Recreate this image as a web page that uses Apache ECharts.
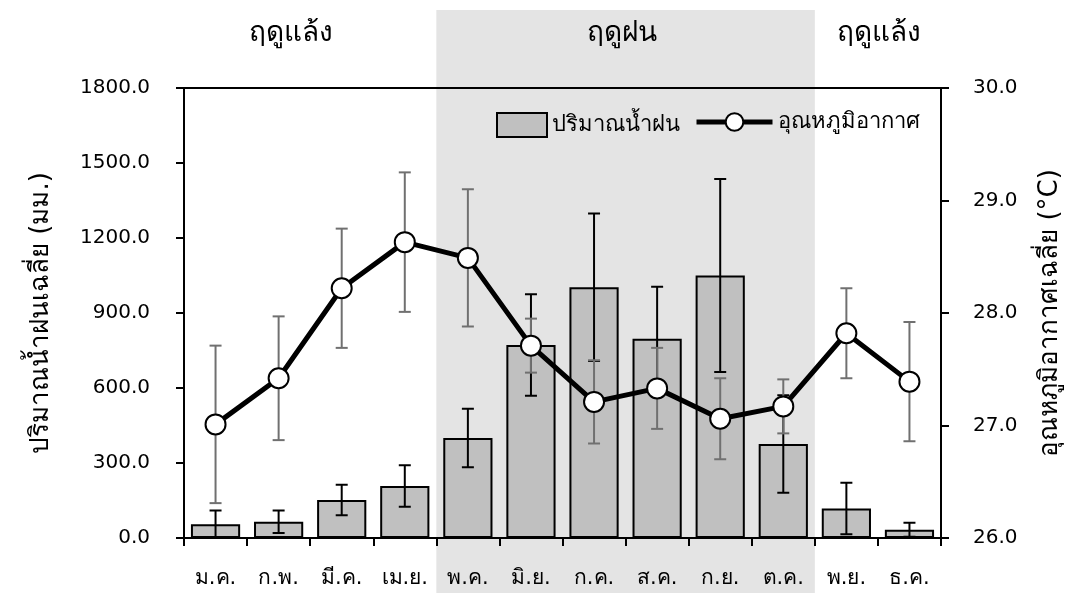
<!DOCTYPE html>
<html>
<head>
<meta charset="utf-8">
<script src="https://cdn.jsdelivr.net/npm/echarts@6/dist/echarts.min.js"></script>
<style>
  html, body { margin: 0; padding: 0; background: #fff; }
  #chart { width: 1076px; height: 593px; }
</style>
</head>
<body>
<div id="chart"></div>
<script>
// data
const months = ['ม.ค.', 'ก.พ.', 'มี.ค.', 'เม.ย.', 'พ.ค.', 'มิ.ย.', 'ก.ค.', 'ส.ค.', 'ก.ย.', 'ต.ค.', 'พ.ย.', 'ธ.ค.'];
const rainMean = [55, 65, 152, 208, 400, 772, 1003, 797, 1050, 376, 118, 33];
const rainErr = [55, 45, 61, 83, 117, 203, 295, 208, 386, 195, 103, 28];
const tempMean = [27.01, 27.42, 28.22, 28.63, 28.49, 27.71, 27.21, 27.33, 27.06, 27.17, 27.82, 27.39];
const tempErr = [0.70, 0.55, 0.53, 0.62, 0.61, 0.24, 0.37, 0.36, 0.36, 0.24, 0.40, 0.53];
const seasons = ['ฤดูแล้ง', 'ฤดูฝน', 'ฤดูแล้ง'];
const wetStart = 4, wetEnd = 9; // พ.ค. .. ต.ค.

const FONT = '"DejaVu Sans", Tahoma, "Noto Sans", sans-serif';
const G = { left: 184, right: 135, top: 88, bottom: 55 };
const W = 1076, H = 593;
const catW = (W - G.left - G.right) / months.length;

function errorSeries(name, color, axis, mean, err, z) {
  return {
    name: name, type: 'custom', yAxisIndex: axis, z: z, silent: true,
    data: mean.map((m, i) => [i, m - err[i], m + err[i]]),
    encode: { x: 0, y: [1, 2] },
    renderItem: (params, api) => {
      const lo = api.coord([api.value(0), api.value(1)]);
      const hi = api.coord([api.value(0), api.value(2)]);
      const h = 6;
      const style = { stroke: color, lineWidth: 2 };
      return {
        type: 'group',
        children: [
          { type: 'line', shape: { x1: hi[0], y1: hi[1], x2: lo[0], y2: lo[1] }, style: style },
          { type: 'line', shape: { x1: hi[0] - h, y1: hi[1], x2: hi[0] + h, y2: hi[1] }, style: style },
          { type: 'line', shape: { x1: lo[0] - h, y1: lo[1], x2: lo[0] + h, y2: lo[1] }, style: style }
        ]
      };
    }
  };
}

const legendText = { fontSize: 22, color: '#000', fontFamily: FONT };
const seasonText = (s) => ({ text: s, fontSize: 28, fill: '#000', fontFamily: FONT });

const chart = echarts.init(document.getElementById('chart'));
chart.setOption({
  animation: false,
  textStyle: { fontFamily: FONT },
  grid: { left: G.left, right: G.right, top: G.top, bottom: G.bottom, show: true, borderColor: '#000', borderWidth: 2, backgroundColor: 'transparent' },
  legend: [
    { left: 491, top: 107, itemWidth: 50, itemHeight: 24, icon: 'rect', itemGap: 0,
      textStyle: legendText, data: ['ปริมาณน้ำฝน'] },
    { left: 689, top: 106, itemWidth: 76, itemHeight: 22, itemGap: 0,
      lineStyle: { width: 5, color: '#000' },
      textStyle: legendText, data: ['อุณหภูมิอากาศ'] }
  ],
  graphic: [
    { type: 'rect', z: -10, silent: true,
      shape: { x: G.left + wetStart * catW, y: 10, width: (wetEnd - wetStart + 1) * catW, height: H - 10 },
      style: { fill: '#e4e4e4' } },
    { type: 'text', left: 249, top: 20, style: seasonText(seasons[0]) },
    { type: 'text', left: 587, top: 20, style: seasonText(seasons[1]) },
    { type: 'text', left: 837, top: 20, style: seasonText(seasons[2]) }
  ],
  xAxis: {
    type: 'category', data: months, boundaryGap: true,
    axisLine: { lineStyle: { color: '#000', width: 2 } },
    axisTick: { show: true, inside: false, length: 8, lineStyle: { color: '#000', width: 2 } },
    axisLabel: { fontSize: 21, color: '#000', margin: 30, interval: 0, hideOverlap: false },
    splitLine: { show: false }
  },
  yAxis: [
    {
      type: 'value', min: 0, max: 1800, interval: 300,
      name: 'ปริมาณน้ำฝนเฉลี่ย (มม.)', nameLocation: 'middle', nameGap: 130, nameRotate: 90,
      nameTextStyle: { fontSize: 26, color: '#000' },
      axisLine: { show: true, lineStyle: { color: '#000', width: 2 } },
      axisTick: { show: true, length: 8, lineStyle: { color: '#000', width: 2 } },
      axisLabel: { fontSize: 20, color: '#000', margin: 34, formatter: v => v.toFixed(1) },
      splitLine: { show: false }
    },
    {
      type: 'value', min: 26, max: 30, interval: 1,
      name: 'อุณหภูมิอากาศเฉลี่ย (°C)', nameLocation: 'middle', nameGap: 96, nameRotate: 90,
      nameTextStyle: { fontSize: 26, color: '#000' },
      axisLine: { show: true, lineStyle: { color: '#000', width: 2 } },
      axisTick: { show: true, length: 8, lineStyle: { color: '#000', width: 2 } },
      axisLabel: { fontSize: 20, color: '#000', margin: 32, formatter: v => v.toFixed(1) },
      splitLine: { show: false }
    }
  ],
  series: [
    {
      name: 'ปริมาณน้ำฝน', type: 'bar', yAxisIndex: 0, data: rainMean, barCategoryGap: '22%', z: 2,
      itemStyle: { color: '#c0c0c0', borderColor: '#000', borderWidth: 2 }
    },
    errorSeries('rainErr', '#000', 0, rainMean, rainErr, 3),
    errorSeries('tempErr', '#707070', 1, tempMean, tempErr, 4),
    {
      name: 'อุณหภูมิอากาศ', type: 'line', yAxisIndex: 1, data: tempMean, z: 5,
      symbol: 'circle', symbolSize: 20,
      lineStyle: { color: '#000', width: 5 },
      itemStyle: { color: '#fff', borderColor: '#000', borderWidth: 2 }
    }
  ]
});
</script>
</body>
</html>
